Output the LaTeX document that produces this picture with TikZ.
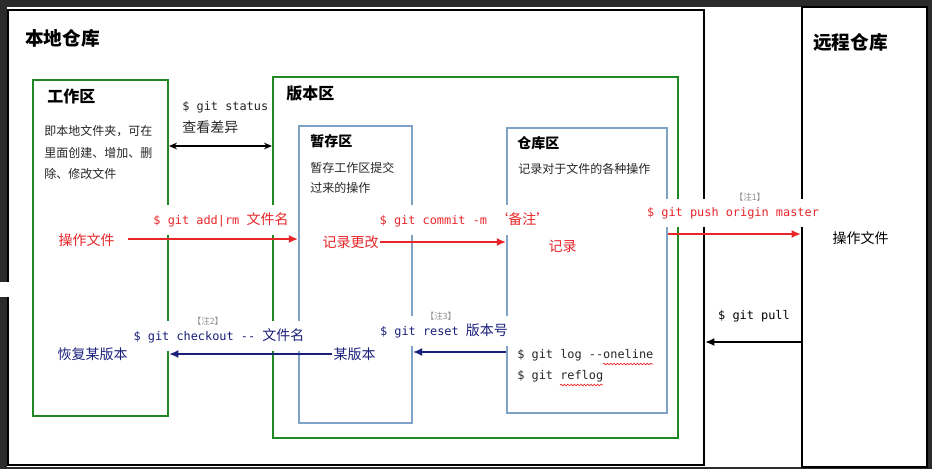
\documentclass[tikz,border=0pt]{standalone}
\usepackage{fontspec}
\setmainfont{Noto Sans CJK SC}
\newfontfamily\mono{DejaVu Sans Mono}[Scale=0.85]
\usetikzlibrary{fit,arrows.meta,decorations.pathmorphing}

\definecolor{framegray}{HTML}{2B2B2B}
\definecolor{areagreen}{HTML}{1F8A24}
\definecolor{areablue}{HTML}{7FA2C8}
\definecolor{cmdred}{HTML}{E8262A}
\definecolor{cmdnavy}{HTML}{1A1F7A}
\definecolor{notegray}{HTML}{8C8C8C}

\tikzset{
  outerbox/.style={draw=black, line width=1.5pt, inner sep=0pt},
  greenbox/.style={draw=areagreen, line width=1.5pt, inner sep=0pt},
  bluebox/.style={draw=areablue, line width=1.3pt, inner sep=0pt},
  bigtitle/.style={anchor=west, inner sep=0pt, font=\bfseries\fontsize{14}{16}\selectfont},
  areatitle/.style={anchor=west, inner sep=0pt, font=\bfseries\fontsize{12}{14}\selectfont},
  subtitle/.style={anchor=west, inner sep=0pt, font=\bfseries\fontsize{10.5}{12}\selectfont},
  desc/.style={anchor=west, inner sep=0pt, align=left, text=black!85},
  cmd/.style={fill=white, inner xsep=2pt, inner ysep=6pt, font=\fontsize{10.5}{14}\selectfont},
  act/.style={anchor=west, inner sep=1pt, font=\fontsize{10.5}{12}\selectfont},
  note/.style={fill=white, inner sep=1pt, text=notegray, font=\fontsize{6.5}{8}\selectfont},
  redarrow/.style={draw=cmdred, line width=1.5pt, -{Latex[length=7pt,width=6pt]}},
  navyarrow/.style={draw=cmdnavy, line width=1.5pt, -{Latex[length=7pt,width=6pt]}},
  blackarrow/.style={draw=black, line width=1.5pt, -{Latex[length=7pt,width=6pt]}},
  wavy/.style={draw=cmdred, line width=0.5pt, decorate, decoration={snake, amplitude=0.6pt, segment length=2.5pt}}
}

\begin{document}
\begin{tikzpicture}[x=0.75pt, y=-0.75pt]
  % frame of the screenshot
  \fill [framegray] (0,0) rectangle (932,469);
  \fill [white] (7,7) rectangle (927,467);
  \useasboundingbox (0,0) rectangle (932,469);

  % areas
  \node [outerbox, fit={(8,10) (704,465)}] (local) {};
  \node [outerbox, fit={(802,7) (927,467)}] (remote) {};
  \node [greenbox, fit={(33,80) (168,416)}] (work) {};
  \node [greenbox, fit={(273,77) (678,438)}] (version) {};
  \node [bluebox, fit={(299,126) (412,423)}] (stage) {};
  \node [bluebox, fit={(507,128) (667,413)}] (repo) {};
  \fill [white] (0,282) rectangle (10,297);

  % titles and descriptions
  \node [bigtitle] (localtitle) at (25,38) {本地仓库};
  \node [bigtitle] (remotetitle) at (813,42) {远程仓库};
  \node [areatitle] (worktitle) at (47,96) {工作区};
  \node [areatitle] (versiontitle) at (286,94) {版本区};
  \node [subtitle] (stagetitle) at (310,141) {暂存区};
  \node [subtitle] (repotitle) at (517,143) {仓库区};
  \node [desc, font=\fontsize{9}{16}\selectfont] (workdesc) at (44,152.5) {即本地文件夹，可在\\里面创建、增加、删\\除、修改文件};
  \node [desc, font=\fontsize{9}{15}\selectfont] (stagedesc) at (310,178) {暂存工作区提交\\过来的操作};
  \node [desc, font=\fontsize{9}{15}\selectfont] (repodesc) at (518,169) {记录对于文件的各种操作};

  % commands
  \node [desc, font=\fontsize{10.5}{16.5}\selectfont] (status) at (182,118) {{\mono\$ git status}\\查看差异};
  \node [cmd, text=cmdred] (add) at (221,220) {{\mono\$ git add|rm }文件名};
  \node [cmd, text=cmdred] (commit) at (465,220) {{\mono\$ git commit -m  }‘备注’};
  \node [cmd, text=cmdred] (push) at (733,213) {\mono\$ git push origin master};
  \node [note] (note1) at (750,197) {【注1】};
  \node [cmd] (pull) at (754,316) {\mono\$ git pull};
  \node [cmd, text=cmdnavy] (checkout) at (219,336) {{\mono\$ git checkout -{}- }文件名};
  \node [note] (note2) at (208,321) {【注2】};
  \node [cmd, text=cmdnavy] (reset) at (444,331) {{\mono\$ git reset }版本号};
  \node [note] (note3) at (441,316) {【注3】};
  \node [desc, font=\fontsize{10.5}{15.75}\selectfont] (log) at (517,365.5) {\mono\$ git log -{}-oneline\\\mono\$ git reflog};

  % actions
  \node [act, text=cmdred] (opwork) at (57,240) {操作文件};
  \node [act, text=cmdred] (change) at (321,242) {记录更改};
  \node [act, text=cmdred] (record) at (547,246) {记录};
  \node [act] (opremote) at (831,238) {操作文件};
  \node [act, text=cmdnavy] (restore) at (56,354) {恢复某版本};
  \node [act, text=cmdnavy] (oldver) at (332,354) {某版本};
  \coordinate (diffpt) at (220,146);
  \coordinate (pullpt) at (760,342);

  % connectors
  \draw [draw=black, line width=1pt, {Stealth[length=6pt,width=5pt]}-{Stealth[length=6pt,width=5pt]}] (work.east |- diffpt) -- (version.west |- diffpt);
  \draw [redarrow] (opwork.east) ++(12,-1) -- (stage.west |- 0,239);
  \draw [redarrow] (change.east) -- (repo.west |- change.east);
  \draw [redarrow] (repo.east |- 0,234) -- (remote.west |- 0,234);
  \draw [blackarrow] (remote.west |- pullpt) -- (local.east |- pullpt);
  \draw [navyarrow] (repo.west |- 0,352) -- (stage.east |- 0,352);
  \draw [navyarrow] (oldver.west) -- (work.east |- oldver.west);

  % spelling marks
  \draw [wavy] ([shift={(86,-1.5)}]log.west) -- ([shift={(136,-1.5)}]log.west);
  \draw [wavy] ([shift={(43,19.5)}]log.west) -- ([shift={(86,19.5)}]log.west);
\end{tikzpicture}
\end{document}
